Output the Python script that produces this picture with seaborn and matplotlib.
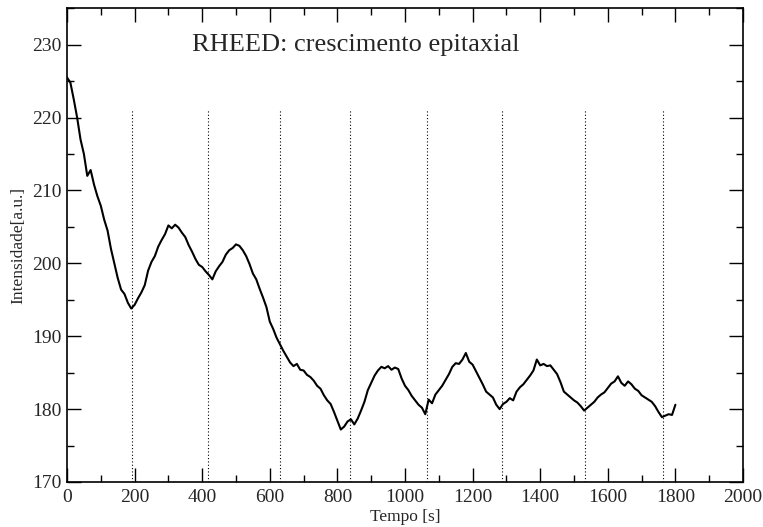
import matplotlib
matplotlib.use("Agg")
import matplotlib.pyplot as plt
from matplotlib.ticker import MultipleLocator
import seaborn as sns
import pandas as pd

# ---- data ----
tempo = list(range(0, 1801, 10))
intensidade = [
    225.5, 224.8, 222.5, 220.0, 217.0, 215.0, 212.0, 212.8, 210.8, 209.2,
    207.9, 206.0, 204.5, 202.0, 200.0, 198.0, 196.4, 195.8, 194.6, 193.8,
    194.3, 195.2, 196.0, 197.0, 199.0, 200.2, 201.0, 202.3, 203.2, 204.0,
    205.2, 204.8, 205.3, 204.9, 204.2, 203.6, 202.5, 201.6, 200.6, 199.8,
    199.5, 198.9, 198.4, 197.8, 198.9, 199.6, 200.2, 201.2, 201.8, 202.1,
    202.6, 202.4, 201.8, 201.0, 199.9, 198.6, 197.8, 196.5, 195.3, 194.0,
    192.0, 191.0, 189.8, 188.9, 188.0, 187.2, 186.4, 185.9, 186.2, 185.4,
    185.3, 184.7, 184.4, 183.9, 183.2, 182.8, 181.9, 181.2, 180.7, 179.6,
    178.4, 177.2, 177.6, 178.3, 178.6, 177.9, 178.7, 179.8, 181.0, 182.6,
    183.6, 184.6, 185.3, 185.8, 185.6, 185.9, 185.4, 185.7, 185.5, 184.2,
    183.2, 182.6, 181.8, 181.2, 180.6, 180.2, 179.3, 181.3, 180.8, 182.0,
    182.6, 183.2, 184.0, 184.8, 185.8, 186.3, 186.2, 186.8, 187.7, 186.5,
    186.1, 185.2, 184.3, 183.4, 182.4, 182.0, 181.6, 180.6, 180.0, 180.7,
    181.0, 181.5, 181.2, 182.4, 183.0, 183.4, 184.0, 184.6, 185.3, 186.8,
    186.0, 186.2, 185.9, 186.0, 185.4, 184.8, 183.7, 182.4, 182.0, 181.6,
    181.2, 180.9, 180.4, 179.8, 180.2, 180.6, 181.0, 181.6, 182.0, 182.3,
    182.9, 183.5, 183.8, 184.5, 183.6, 183.2, 183.8, 183.4, 182.8, 182.5,
    181.9, 181.6, 181.3, 181.0, 180.4, 179.6, 178.9, 179.1, 179.3, 179.2,
    180.6,
]
camadas = [192, 417, 630, 838, 1064, 1287, 1534, 1762]
camada_topo = 221
titulo = "RHEED: crescimento epitaxial"
xlabel = "Tempo [s]"
ylabel = "Intensidade[a.u.]"

df = pd.DataFrame({"t": tempo, "I": intensidade})

sns.set_style("ticks")
plt.rcParams["font.family"] = ["Liberation Serif", "DejaVu Serif"]

fig = plt.figure(figsize=(7.63, 5.27), dpi=100)
ax = fig.add_axes([0.0878, 0.0854, 0.886, 0.899])

sns.lineplot(data=df, x="t", y="I", ax=ax, color="black", linewidth=1.5)
ax.vlines(camadas, 170, camada_topo, colors="black", linestyles=(0, (1, 2)),
          linewidth=0.8)

ax.set_xlim(0, 2000)
ax.set_ylim(170, 235)
ax.xaxis.set_major_locator(MultipleLocator(200))
ax.xaxis.set_minor_locator(MultipleLocator(100))
ax.yaxis.set_major_locator(MultipleLocator(10))
ax.yaxis.set_minor_locator(MultipleLocator(5))
ax.tick_params(which="both", direction="in", top=True, right=True,
               color="black", width=1)
ax.tick_params(which="major", length=10, labelsize=14)
ax.tick_params(axis="x", which="major", pad=5)
ax.tick_params(axis="y", which="major", pad=4)
ax.tick_params(which="minor", length=5)
ax.set_yticks([170, 180, 190, 200, 210, 220, 230])
for s in ax.spines.values():
    s.set_color("black")
    s.set_linewidth(1.2)

ax.set_xlabel(xlabel, fontsize=12.5, labelpad=2)
ax.set_ylabel(ylabel, fontsize=12.5, labelpad=4)
ax.text(370, 230, titulo, fontsize=19, va="center", ha="left")

fig.savefig("out.png", dpi=100)
